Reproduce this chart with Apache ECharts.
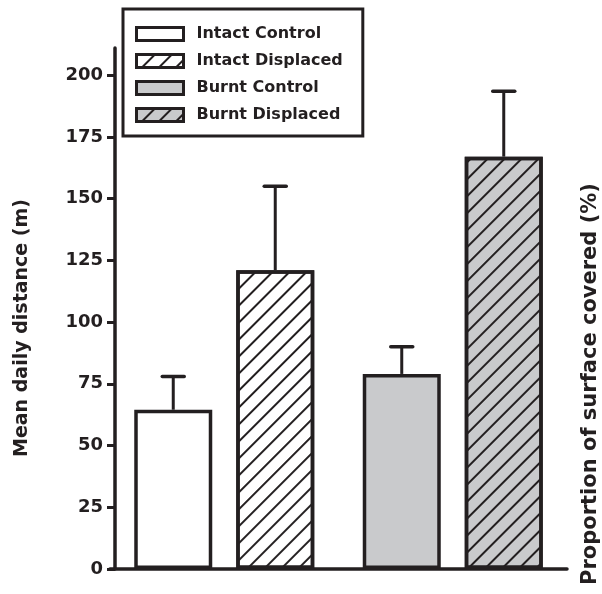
<!DOCTYPE html>
<html>
<head>
<meta charset="utf-8">
<script src="https://cdn.jsdelivr.net/npm/echarts@6/dist/echarts.min.js"></script>
<style>
html, body { margin: 0; padding: 0; background: #fff; }
#main { width: 602px; height: 594px; }
</style>
</head>
<body>
<div id="main"></div>
<script>
// data
var groups = ['Intact', 'Burnt'];
var seriesNames = ['Intact Control', 'Intact Displaced', 'Burnt Control', 'Burnt Displaced'];
var means = [64.5, 121, 79, 167];
var upperErr = [78, 155, 90, 193.5];
var yTicks = [0, 25, 50, 75, 100, 125, 150, 175, 200];
var yMax = 211;

var ink = '#231f20';
var grey = '#c9cacc';
var font = 'DejaVu Sans';
var barWidth = 78;
var barGapPx = 24;

var hatch = {
	symbol: 'rect',
	color: ink,
	dashArrayX: [1, 0],
	dashArrayY: [2, 10],
	rotation: -Math.PI / 4,
	symbolSize: 1
};

var chart = echarts.init(document.getElementById('main'));

var series = seriesNames.map(function (name, i) {
	var g = i < 2 ? 0 : 1;
	var slot = i % 2;
	return {
		name: name,
		type: 'bar',
		stack: slot === 0 ? 'ctrl' : 'disp',
		barWidth: barWidth,
		barGap: (barGapPx / barWidth * 100) + '%',
		data: groups.map(function (x, gi) { return gi === g ? means[i] : '-'; }),
		itemStyle: {
			color: i < 2 ? '#ffffff' : grey,
			borderColor: ink,
			borderWidth: 3.5,
			decal: slot === 1 ? hatch : null
		},
		emphasis: { disabled: true },
		z: 2
	};
});

// error bars (upper only)
series.push({
	type: 'custom',
	data: means.map(function (m, i) { return [i < 2 ? 0 : 1, i % 2, m, upperErr[i]]; }),
	encode: { x: 0, y: 3 },
	renderItem: function (params, api) {
		var cat = api.value(0), slot = api.value(1);
		var base = api.coord([cat, api.value(2)]);
		var top = api.coord([cat, api.value(3)]);
		var x = base[0] + (slot === 0 ? -1 : 1) * (barWidth + barGapPx) / 2;
		return {
			type: 'group',
			children: [
				{ type: 'line', shape: { x1: x, y1: base[1], x2: x, y2: top[1] }, style: { stroke: ink, lineWidth: 3 } },
				{ type: 'line', shape: { x1: x - 11, y1: top[1], x2: x + 11, y2: top[1] }, style: { stroke: ink, lineWidth: 3.5, lineCap: 'round' } }
			]
		};
	},
	z: 1
});

var option = {
	animation: false,
	backgroundColor: '#fff',
	grid: { left: 110, right: 35, top: 48, bottom: 25, outerBoundsMode: 'none' },
	legend: {
		data: seriesNames,
		orient: 'vertical',
		left: 123,
		top: 9,
		icon: 'rect',
		itemWidth: 47,
		itemHeight: 13,
		itemGap: 9,
		padding: [16, 20, 12, 12],
		borderColor: ink,
		borderWidth: 3,
		selectedMode: false,
		itemStyle: { borderWidth: 3, borderColor: ink },
		textStyle: { fontFamily: font, fontWeight: 'bold', fontSize: 16, color: ink, lineHeight: 18, padding: [0, 0, 0, 8] }
	},
	xAxis: {
		type: 'category',
		data: groups,
		axisLine: { lineStyle: { color: ink, width: 3.5 } },
		axisTick: { show: false },
		axisLabel: { show: false },
		splitLine: { show: false }
	},
	yAxis: {
		type: 'value',
		min: 0,
		max: yMax,
		offset: -5,
		axisLine: { show: true, lineStyle: { color: ink, width: 3.5 } },
		axisTick: { show: true, length: 8, lineStyle: { color: ink, width: 3 }, customValues: yTicks },
		axisLabel: { customValues: yTicks, margin: 12, color: ink, fontFamily: font, fontWeight: 'bold', fontSize: 18 },
		splitLine: { show: false }
	},
	graphic: [
		{
			type: 'text', x: 22, y: 328, rotation: Math.PI / 2,
			style: { text: 'Mean daily distance (m)', fill: ink, fontFamily: font, fontWeight: 'bold', fontSize: 19, align: 'center', verticalAlign: 'middle' }
		},
		{
			type: 'text', x: 591, y: 384, rotation: Math.PI / 2,
			style: { text: 'Proportion of surface covered (%)', fill: ink, fontFamily: font, fontWeight: 'bold', fontSize: 21, align: 'center', verticalAlign: 'middle' }
		}
	],
	series: series
};

chart.setOption(option);
</script>
</body>
</html>
